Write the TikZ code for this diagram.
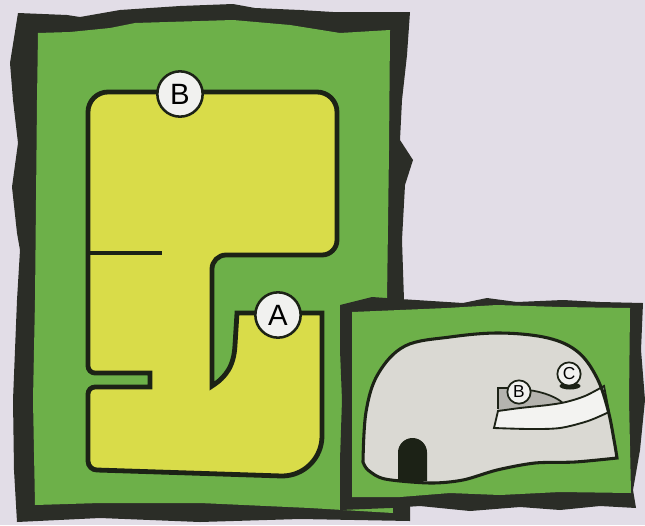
\documentclass[tikz,border=0pt]{standalone}
\usepackage{fontspec}
\setmainfont{Liberation Sans}
\definecolor{paper}{HTML}{E2DDE7}
\definecolor{frame}{HTML}{2B2D27}
\definecolor{grass}{HTML}{6DB049}
\definecolor{ink}{HTML}{1C2216}
\definecolor{floor}{HTML}{DAD9D3}
\definecolor{ramp}{HTML}{F3F3F1}
\definecolor{ledge}{HTML}{B4B3AE}
\definecolor{markfill}{HTML}{F1F1EF}
\definecolor{pathyellow}{HTML}{D9DC49}
\begin{document}
\begin{tikzpicture}[x=0.75pt,y=-0.75pt,
  bigmark/.style={circle,draw=ink,line width=1.9pt,fill=markfill,minimum size=34pt,inner sep=0pt,
    font=\fontsize{22}{22}\selectfont},
  smallmark/.style={circle,draw=ink,line width=1.3pt,fill=markfill,minimum size=17.5pt,inner sep=0pt,
    font=\fontsize{13}{13}\selectfont},
  wall/.style={draw=ink,line width=3.6pt},
  caveline/.style={draw=ink,line width=2.3pt}]
\useasboundingbox (0,0) rectangle (645,525);
\fill[paper] (0,0) rectangle (645,525);

% large map: torn dark frame and grass
\fill[frame] (18,13) -- (67,15) -- (80,17) -- (120,10) -- (180,6) -- (233,4) -- (255,8) -- (300,10)
  -- (333,12) -- (410,12) -- (407,55) -- (402,100) -- (400,140) -- (413,160) -- (405,185)
  -- (402,240) -- (404,300) -- (406,400) -- (410,470) -- (410,521) -- (300,519) -- (200,522)
  -- (100,518) -- (17,522) -- (14,470) -- (13,400) -- (17,300) -- (20,250) -- (17,233)
  -- (12,187) -- (18,143) -- (13,100) -- (10,63) -- cycle;
\fill[grass] (38,33) -- (70,32) -- (110,28) -- (135,23) -- (233,20) -- (290,25) -- (340,33)
  -- (390,30) -- (389,150) -- (387,300) -- (390,400) -- (393,513) -- (310,508) -- (200,503)
  -- (100,503) -- (35,505) -- (33,400) -- (35,300) -- (36,200) -- (37,100) -- cycle;

% yellow corridor
\path[wall,fill=pathyellow]
  (88,300) -- (88,112) arc (180:270:20) -- (317,92) arc (270:360:20)
  -- (337,240) arc (0:90:15) -- (226,255) arc (270:180:14)
  -- (212,386) .. controls (226,377) and (234,366) .. (235,345) -- (237,313) -- (322,313)
  -- (322,436) arc (0:90:40) -- (97,470) arc (90:180:9)
  -- (88,394) arc (180:270:7) -- (150,387) -- (150,373) -- (95,373) arc (90:180:7) -- cycle;
\draw[wall] (88,253) -- (162,253);

\node[bigmark] (bigB) at (180,94) {B};
\node[bigmark] (bigA) at (278,315) {A};

% small map
\fill[frame] (340,305) -- (372,297) -- (400,299) -- (463,303) -- (487,298) -- (517,302)
  -- (563,300) -- (600,302) -- (643,303) -- (641,350) -- (645,400) -- (640,450) -- (633,490)
  -- (636,508) -- (600,506) -- (560,510) -- (520,507) -- (470,511) -- (420,506) -- (390,508)
  -- (340,510) -- (340,460) -- (342,400) -- (340,350) -- cycle;
\fill[grass] (352,312) -- (400,310) -- (447,308) -- (497,305) -- (560,307) -- (630,308)
  -- (629,400) -- (631,493) -- (560,492) -- (500,495) -- (450,493) -- (400,497) -- (352,497) -- cycle;

% cave floor
\def\cavepath{plot[smooth,tension=0.6] coordinates {(363,462) (366,412) (378,374) (405,346)
   (450,337) (500,333) (548,338) (578,352) (597,378) (608,410) (614,440) (617,458)}
  -- plot[smooth,tension=0.5] coordinates {(617,458) (575,462) (535,463) (497,470) (463,480)
   (430,483) (385,479) (368,470) (363,462)} -- cycle}
\fill[floor] \cavepath;

% raised ledge and ramp
\path[fill=ledge] (498,410) -- (498,388) -- (510,388) -- (528,390)
  .. controls (545,392) and (558,398) .. (564,406) -- cycle;
\draw[ink,line width=1.3pt] (498,409) -- (498,388) -- (510,388);
\draw[ink,line width=1.3pt] (528,390) .. controls (545,392) and (558,398) .. (564,404);
\draw[ink,line width=1.4pt,fill=ramp]
  plot[smooth,tension=0.5] coordinates {(498,411) (520,408) (548,405) (566,402) (585,396) (604,386)}
  -- (609,412)
  -- plot[smooth,tension=0.5] coordinates {(609,412) (588,421) (560,428) (530,429) (494,428)}
  -- cycle;

% tunnel mouth
\fill[ink] (398,481) -- (398,452.5) arc (180:360:14.5) -- (427,481) -- cycle;
\draw[caveline] \cavepath;

\fill[ink] (570,386) ellipse (10.5 and 3.5);
\node[smallmark] (smallC) at (569,374) {C};
\node[smallmark] (smallB) at (519,392) {B};
\end{tikzpicture}
\end{document}
